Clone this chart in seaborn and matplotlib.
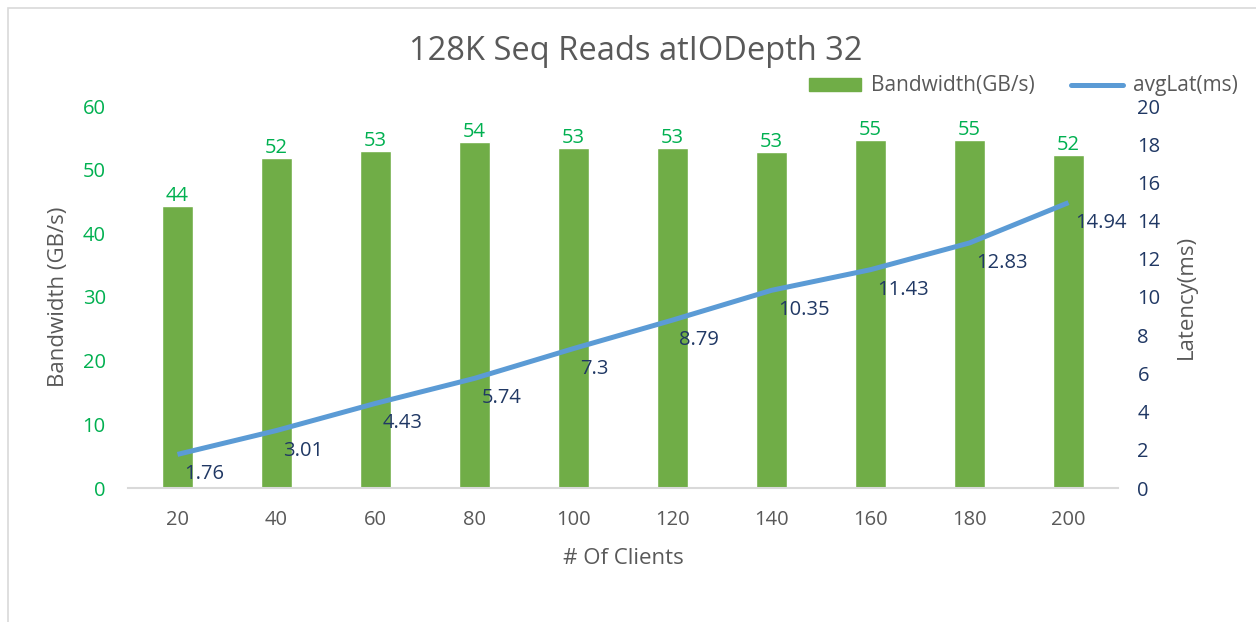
import matplotlib
matplotlib.use("Agg")
import matplotlib.pyplot as plt
import seaborn as sns
import numpy as np
import pandas as pd
from matplotlib.patches import Rectangle, Patch
from matplotlib.lines import Line2D

clients = ["20", "40", "60", "80", "100", "120", "140", "160", "180", "200"]
bandwidth = [44.3, 51.9, 52.9, 54.4, 53.4, 53.4, 52.8, 54.6, 54.7, 52.3]
bandwidth_labels = ["44", "52", "53", "54", "53", "53", "53", "55", "55", "52"]
latency = [1.76, 3.01, 4.43, 5.74, 7.3, 8.79, 10.35, 11.43, 12.83, 14.94]
latency_labels = ["1.76", "3.01", "4.43", "5.74", "7.3", "8.79", "10.35", "11.43", "12.83", "14.94"]

sns.set_theme(style="white")
plt.rcParams["font.family"] = ["Open Sans", "DejaVu Sans"]

GREEN = "#70AD47"
TICK_GREEN = "#00B050"
BLUE = "#5B9BD5"
NAVY = "#203864"
GRAY = "#595959"

fig = plt.figure(figsize=(12.56, 6.22), dpi=100)
fig.patches.append(Rectangle((8/1256, -0.01), 1.1, 1 - 8/622 + 0.01, transform=fig.transFigure,
                             fill=False, edgecolor="#D9D9D9", linewidth=1.2))
ax = fig.add_axes([128/1256, 1 - 488/622, (1118 - 128)/1256, (488 - 106)/622])

df = pd.DataFrame({"clients": clients, "bw": bandwidth})
sns.barplot(data=df, x="clients", y="bw", color=GREEN, saturation=1, width=0.31, ax=ax)
ax.set_xlim(-0.5, len(clients) - 0.5)
ax.set_ylim(0, 60)
ax.set_yticks(range(0, 61, 10))
for i, (v, lab) in enumerate(zip(bandwidth, bandwidth_labels)):
    ax.annotate(lab, (i, v), xytext=(0, 0), textcoords="offset points", ha="center", va="bottom",
                color=TICK_GREEN, fontsize=14.5)

ax2 = ax.twinx()
sns.lineplot(x=np.arange(len(latency)), y=latency, color=BLUE, linewidth=3.6, ax=ax2,
             solid_capstyle="butt")
ax2.set_ylim(0, 20)
ax2.set_yticks(range(0, 21, 2))
for i, (v, lab) in enumerate(zip(latency, latency_labels)):
    ax2.annotate(lab, (i, v), xytext=(7, -20), textcoords="offset pixels", ha="left", va="center",
                 color=NAVY, fontsize=14.5)

for a in (ax, ax2):
    for s in a.spines.values():
        s.set_visible(False)
    a.grid(False)
ax.spines["bottom"].set_visible(True)
ax.spines["bottom"].set_color("#D9D9D9")
ax.spines["bottom"].set_linewidth(1.5)

ax.tick_params(axis="y", length=0, pad=16, labelcolor=TICK_GREEN, labelsize=14.5)
ax.tick_params(axis="x", length=0, pad=16, labelcolor=GRAY, labelsize=14.5)
ax2.tick_params(axis="y", length=0, pad=14, labelcolor=NAVY, labelsize=14.5)

ax.set_xlabel("# Of Clients", color=GRAY, fontsize=16, labelpad=13)
ax.set_ylabel("Bandwidth (GB/s)", color=GRAY, fontsize=16, labelpad=10)
ax2.set_ylabel("Latency(ms)", color=GRAY, fontsize=16, labelpad=11)

fig.text(636/1256, 1 - 52/622, "128K Seq Reads atIODepth 32", ha="center", va="center",
         color=GRAY, fontsize=23.5)

handles = [Patch(facecolor=GREEN, edgecolor=GREEN), Line2D([0], [0], color=BLUE, linewidth=3.6)]
fig.legend(handles, ["Bandwidth(GB/s)", "avgLat(ms)"], loc="center right",
           bbox_to_anchor=(1238/1256, 1 - 86/622), ncol=2, frameon=False, fontsize=15,
           labelcolor=GRAY, handlelength=2.5, handleheight=0.6, columnspacing=1.7,
           handletextpad=0.5, borderaxespad=0, borderpad=0)

fig.savefig("out.png", dpi=100)
